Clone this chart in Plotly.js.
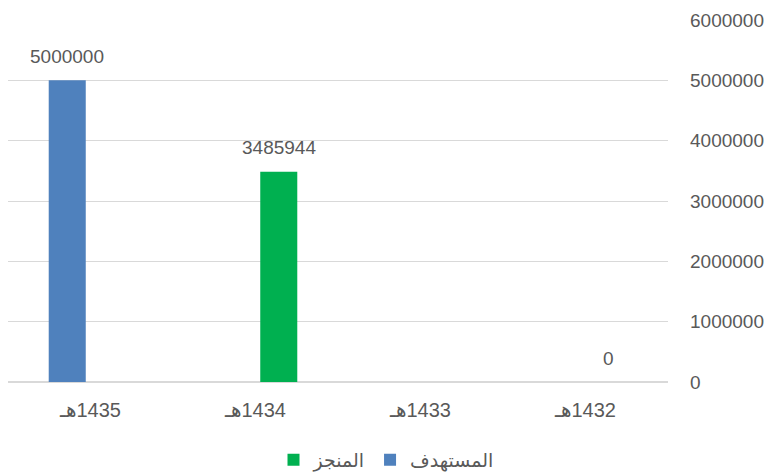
<!DOCTYPE html>
<html>
<head>
<meta charset="utf-8">
<script src="https://cdn.plot.ly/plotly-3.0.1.min.js"></script>
<style>html,body{margin:0;padding:0;background:#fff;}#chart{width:772px;height:475px;}</style>
</head>
<body>
<div id="chart"></div>
<script>
var categories = ["1435هـ", "1434هـ", "1433هـ", "1432هـ"];
var targetName = "المستهدف";
var achievedName = "المنجز";
var targetValues = [5000000, null, null, null];
var achievedValues = [null, 3485944, null, 0];
var yTicks = [0, 1000000, 2000000, 3000000, 4000000, 5000000, 6000000];

var fontFam = "Liberation Sans, Arial, DejaVu Sans, sans-serif";
var txtColor = "#595959";

var W = 772, H = 475;
var margin = { l: 8, r: 104, t: 20, b: 92.5, pad: 0 };
var bargap = 0.436, bargroupgap = 0.204;
var slot = (W - margin.l - margin.r) / categories.length;
var groupOffset = slot * (1 - bargap) / 4;

// visual order as in the RTL source: Arabic suffix drawn left of the year digits
var tickText = categories.map(function (c) {
  return c.replace(/^(\d+)(.*)$/, "$2\u200E$1");
});

var traces = [
  {
    type: "bar", name: targetName, x: categories, y: targetValues,
    marker: { color: "#4f81bd" }, hoverinfo: "skip"
  },
  {
    type: "bar", name: achievedName, x: categories, y: achievedValues,
    marker: { color: "#00b050" }, hoverinfo: "skip"
  }
];

var annotations = [];
[[targetValues, -1], [achievedValues, 1]].forEach(function (pair) {
  pair[0].forEach(function (v, i) {
    if (v === null) return;
    annotations.push({
      x: categories[i], y: v, xref: "x", yref: "y",
      text: String(v), showarrow: false,
      xanchor: "center", yanchor: "middle",
      xshift: pair[1] * groupOffset, yshift: 24,
      font: { size: 19, color: txtColor, family: fontFam }
    });
  });
});

var layout = {
  width: W, height: H,
  margin: margin,
  paper_bgcolor: "#ffffff", plot_bgcolor: "#ffffff",
  font: { family: fontFam, color: txtColor, size: 19 },
  barmode: "group",
  bargap: bargap,
  bargroupgap: bargroupgap,
  showlegend: true,
  legend: {
    orientation: "h", x: 0.5, xanchor: "center", xref: "container",
    y: 0.032, yanchor: "middle", yref: "container",
    traceorder: "reversed",
    itemwidth: 30,
    font: { size: 19, color: txtColor, family: fontFam }
  },
  annotations: annotations,
  xaxis: {
    type: "category",
    tickvals: categories,
    ticktext: tickText,
    showgrid: false, zeroline: false,
    showline: false,
    ticks: "", ticklabelstandoff: 14,
    tickfont: { size: 20, color: txtColor, family: fontFam },
    fixedrange: true
  },
  yaxis: {
    side: "right",
    range: [0, 6000000],
    tickvals: yTicks,
    ticktext: yTicks.map(String),
    showgrid: true, gridcolor: "#d9d9d9", gridwidth: 1,
    zeroline: true, zerolinecolor: "#d9d9d9", zerolinewidth: 1.5,
    showline: false, ticks: "",
    ticklabelstandoff: 21,
    tickfont: { size: 19, color: txtColor, family: fontFam },
    fixedrange: true
  }
};

Plotly.newPlot("chart", traces, layout, { displayModeBar: false, staticPlot: true });
</script>
</body>
</html>
